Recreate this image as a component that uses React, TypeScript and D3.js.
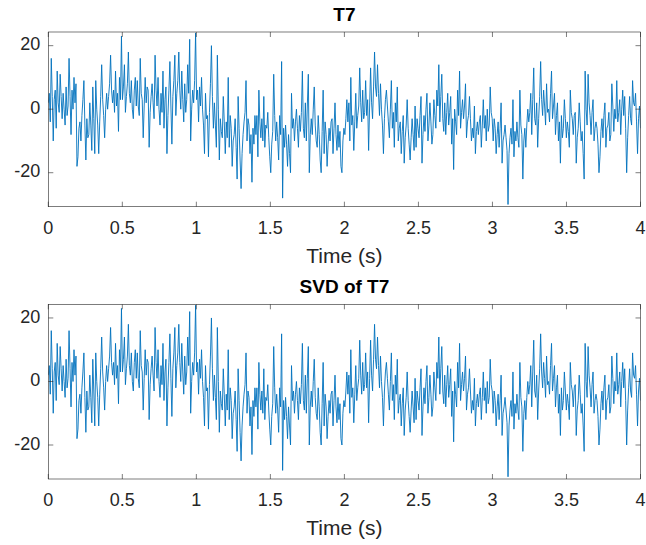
import React from 'react';
import * as d3 from 'd3';

// T7 channel (µV), 150 samples per second over 4 s
const t7: number[] = [
  2, 5, -4, 16, 4, -10, 3, 6, -6, 12, 2, -1, 11, 4, -3,
  5, 0, -5, 7, -2, 1, 16, 4, -8, 6, 0, 10, 2, 8, -18,
  -15, -6, -4, -10, -2, 3, 9, -5, -16, -3, -9, -8, 2, -5, -13,
  7, -3, -14, 9, 0, -5, -14, -4, 4, 14, 3, -2, -9, 0, 5,
  0, 4, 8, 17, 6, 2, 6, -1, 12, 1, 5, -7, 10, 3, 23,
  3, 7, 14, -1, 4, 8, 18, 5, 2, 9, 0, -3, 6, 10, 1,
  9, 1, -2, 16, 5, 3, -9, 1, 10, 2, 7, 6, -12, -1, 4,
  8, 2, -3, 17, 6, 1, 10, 0, -5, 5, -1, 12, -6, 3, 7,
  -14, -2, 6, 15, 1, -11, 4, 9, 17, -2, 5, 9, 18, 6, 0,
  12, 3, -4, 8, -1, 3, 14, 5, 22, -10, 0, 6, 2, 9, 24,
  3, 6, -4, 7, 1, 10, 0, -5, -14, 5, -3, -2, -15, -1, 8,
  20, 4, -6, 2, -5, -12, 17, 0, -16, -3, -7, -9, 4, -4, -14,
  -4, -9, 10, -12, -2, -6, -18, -10, -8, -3, -12, -22, 4, -6, -16,
  -25, -14, -8, -4, -1, 9, -10, -3, -5, -14, -8, -23, -6, -11, -2,
  -8, -2, -15, 6, -4, -9, -3, -10, 4, -12, -5, -6, -1, -9, -15,
  -20, -11, -7, 11, -2, -10, -4, -9, -16, -2, -8, 15, -28, -6, -12,
  -5, -11, -18, -8, -14, -20, 5, -6, -3, -10, -4, 0, -6, -12, -2,
  -7, -1, 12, -6, -9, 2, -10, 1, 11, -20, -8, -3, -8, 0, 7,
  -5, -10, -12, -2, -8, -16, -20, -7, 6, -14, -4, -8, -18, -11, -6,
  -10, -4, -3, -14, -6, 2, -8, -13, -5, -12, -7, -18, -20, -10, -6,
  -8, -3, 3, -4, 2, -10, 10, -5, -2, -13, -4, 5, -6, -2, 1,
  13, 2, -4, 6, -3, -1, 9, -2, 3, -13, 1, 13, 2, -3, 7,
  18, 7, 4, 14, 5, -2, 8, 0, -5, -14, -3, 3, 6, 1, -4,
  -9, 0, 9, -6, -1, -12, 2, -4, 7, -10, -6, -4, -14, -7, -2,
  -17, -9, -5, 3, -6, -11, -16, -9, -3, -8, -13, 1, -12, -3, -6,
  -9, -2, 4, -17, -8, -2, -7, 0, 5, -10, -5, 2, -4, -11, -8,
  3, -2, -6, 6, 1, 14, -4, 4, 11, -3, -7, 2, -8, -1, 5,
  -5, -1, 4, -11, -3, -19, 0, -4, -8, 6, -2, 12, -6, -1, 3,
  -3, 1, 8, -9, -4, -2, 4, -3, -10, -6, -9, 1, -14, -7, -4,
  -8, -4, -2, -12, -5, 3, -6, -2, -10, 0, -7, -5, 7, -1, -3,
  -10, -3, -6, -14, -8, -4, -12, -6, 2, -17, -10, -8, -5, -9, -13,
  -30, -14, -9, -6, -11, 3, -15, -7, -10, -4, -9, -12, 6, -5, -8,
  -22, -10, -6, -12, -5, 0, -4, -1, 5, -8, 3, 13, -3, -5, 2,
  -12, -3, 4, 15, 3, -2, 6, 1, -5, 8, -1, 0, -4, 5, 12,
  -3, 1, 5, -8, -2, 2, -10, -4, -17, -2, -9, -6, 3, -3, -9,
  -4, -7, -12, 6, -1, -3, -8, -2, -1, -17, -9, -6, 2, -4, -10,
  -7, -14, -22, 12, 0, -5, 11, 2, -2, -8, -1, 3, -10, -6, -4,
  -6, -11, -20, -15, -7, -3, -9, -2, 2, -12, -6, -5, -1, -10, -8,
  8, 1, -7, 0, -3, 9, -4, -1, 3, -8, 0, 6, -2, 4, -6,
  -20, -9, -2, 4, -3, -5, 9, 2, 1, 5, -4, -14, -3, 1, -6,
];

// SVD reconstruction of T7 (visually the same trace)
const svdT7: number[] = [...t7];

const duration = 4;
const xTicks = [0, 0.5, 1, 1.5, 2, 2.5, 3, 3.5, 4];
const yTicks = [-20, 0, 20];
const yDomain: [number, number] = [-30.7, 24.3];
const titles = ['T7', 'SVD of T7'];
const xLabel = 'Time (s)';

const FONT = 'Liberation Sans, Arial, Helvetica, sans-serif';
const AXIS = '#262626';
const LINE = '#0072BD';

const LEFT = 48.3;
const RIGHT = 640.5;
const HEIGHT = 174.7;

function Panel({ top, data, title, id }: { top: number; data: number[]; title: string; id: string }) {
  const x = d3.scaleLinear().domain([0, duration]).range([LEFT, RIGHT]);
  const y = d3.scaleLinear().domain(yDomain).range([top + HEIGHT, top]);
  const n = data.length;
  const line = d3
    .line<number>()
    .x((_, i) => x((i * duration) / (n - 1)))
    .y((d) => y(d));
  const bottom = top + HEIGHT;
  const tl = 5;
  return (
    <g>
      <defs>
        <clipPath id={id}>
          <rect x={LEFT} y={top} width={RIGHT - LEFT} height={HEIGHT} />
        </clipPath>
      </defs>
      <path d={line(data) || ''} fill="none" stroke={LINE} strokeWidth={0.9} clipPath={`url(#${id})`} />
      <rect x={LEFT} y={top} width={RIGHT - LEFT} height={HEIGHT} fill="none" stroke={AXIS} strokeWidth={0.6} />
      {xTicks.map((t) => (
        <g key={'x' + t}>
          <line x1={x(t)} x2={x(t)} y1={bottom} y2={bottom - tl} stroke={AXIS} strokeWidth={0.6} />
          <line x1={x(t)} x2={x(t)} y1={top} y2={top + tl} stroke={AXIS} strokeWidth={0.6} />
          <text x={x(t)} y={bottom + 22.5} textAnchor="middle" dominantBaseline="middle" fontSize={18} fontFamily={FONT} fill={AXIS}>
            {t}
          </text>
        </g>
      ))}
      {yTicks.map((t) => (
        <g key={'y' + t}>
          <line x1={LEFT} x2={LEFT + tl} y1={y(t)} y2={y(t)} stroke={AXIS} strokeWidth={0.6} />
          <line x1={RIGHT} x2={RIGHT - tl} y1={y(t)} y2={y(t)} stroke={AXIS} strokeWidth={0.6} />
          <text x={LEFT - 8} y={y(t)} textAnchor="end" dominantBaseline="middle" fontSize={18} fontFamily={FONT} fill={AXIS}>
            {t}
          </text>
        </g>
      ))}
      <text x={(LEFT + RIGHT) / 2} y={bottom + 50.5} textAnchor="middle" dominantBaseline="middle" fontSize={21} fontFamily={FONT} fill={AXIS}>
        {xLabel}
      </text>
      <text x={(LEFT + RIGHT) / 2} y={top - 16.5} textAnchor="middle" dominantBaseline="middle" fontSize={19} fontWeight="bold" fontFamily={FONT} fill="#000">
        {title}
      </text>
    </g>
  );
}

export default function App() {
  return (
    <svg width={646} height={545} style={{ position: 'absolute', left: 0, top: 0, background: '#fff' }}>
      <rect width={646} height={545} fill="#fff" />
      <Panel top={32} data={t7} title={titles[0]} id="clip1" />
      <Panel top={304.3} data={svdT7} title={titles[1]} id="clip2" />
    </svg>
  );
}
